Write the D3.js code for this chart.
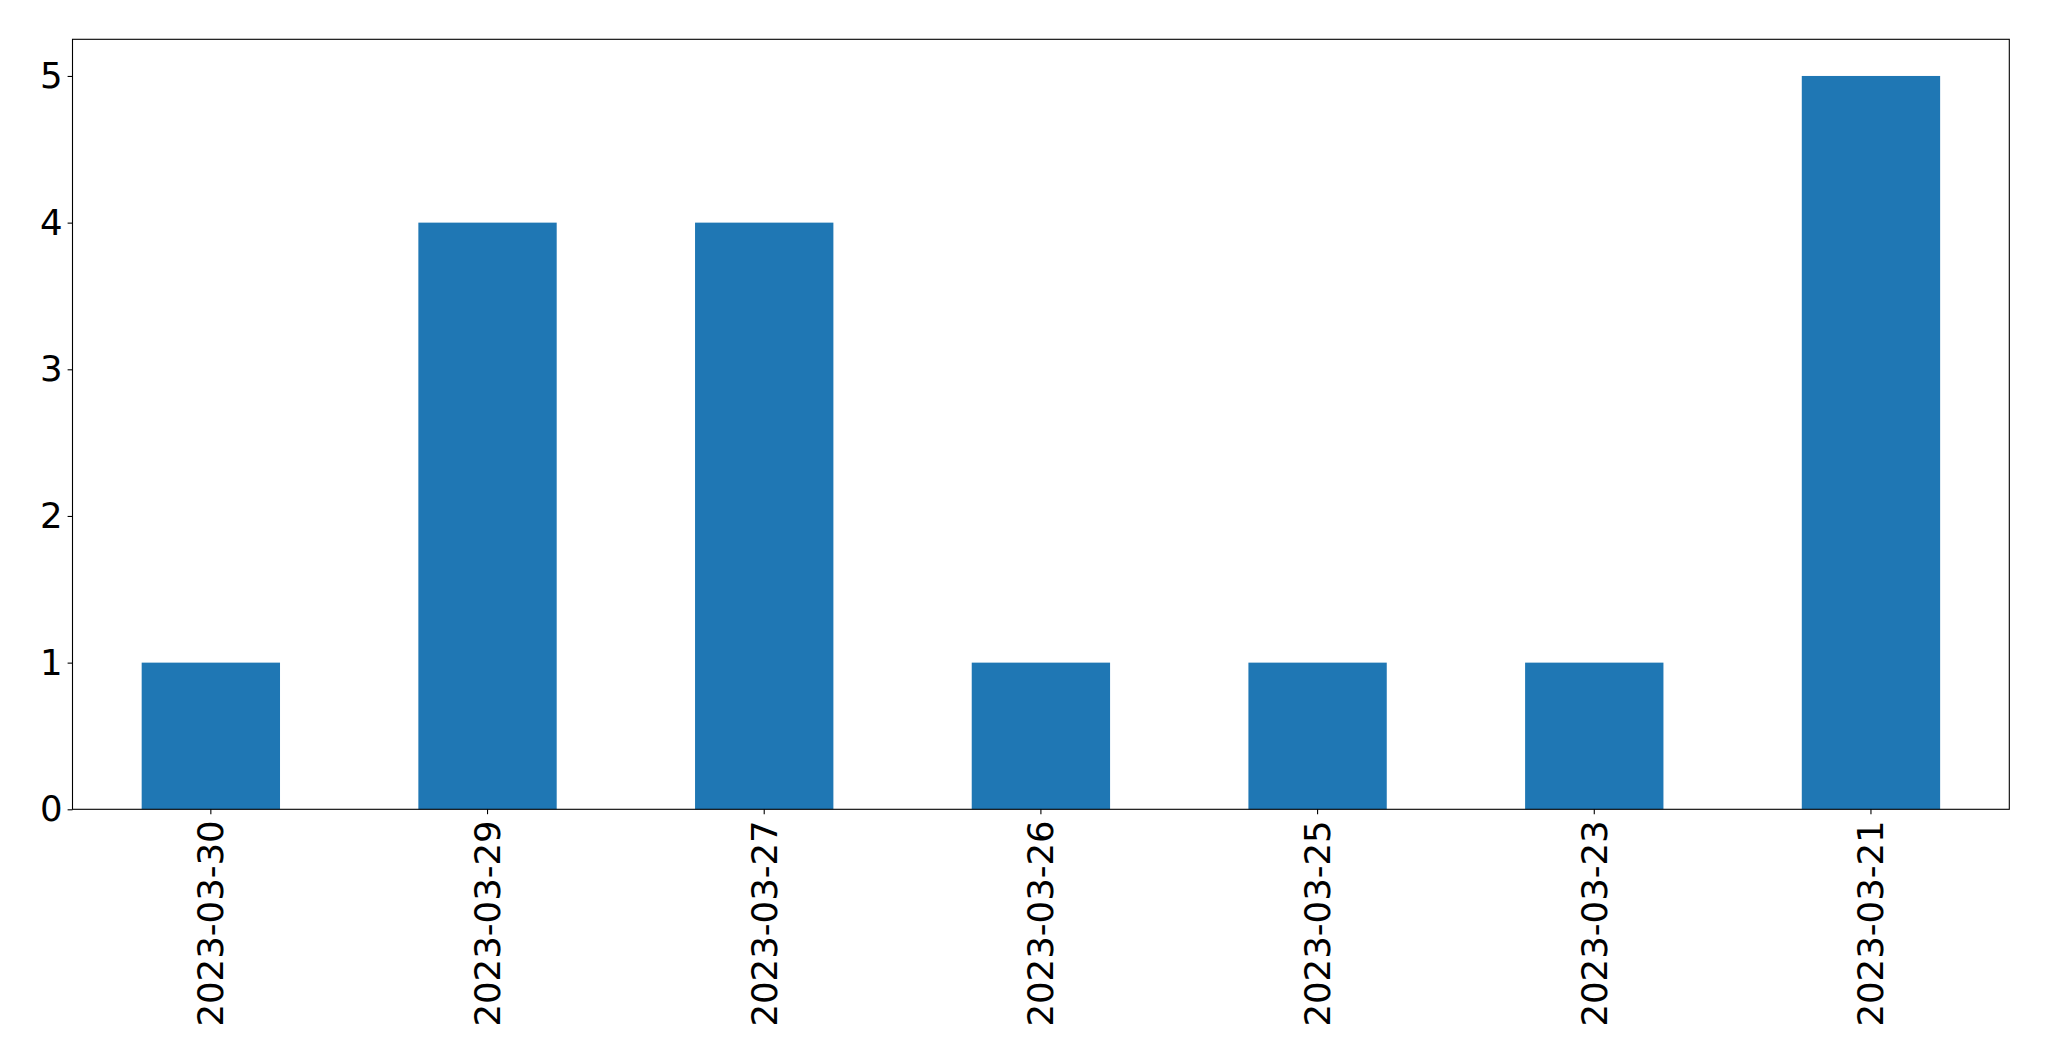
<!DOCTYPE html>
<html><head><meta charset="utf-8">
<script src="https://cdn.jsdelivr.net/npm/d3@7"></script>
<style>html,body{margin:0;padding:0;background:#fff;}svg{display:block;}</style>
</head><body>
<script>
const categories = ["2023-03-30","2023-03-29","2023-03-27","2023-03-26","2023-03-25","2023-03-23","2023-03-21"];
const values = [1,4,4,1,1,1,5];
const yTicks = [0,1,2,3,4,5];

const W = 2049, H = 1061;
const m = {left: 72.5, right: 2049-2009.3, top: 39.3, bottom: 1061-809.3};
const svg = d3.select("body").append("svg").attr("width", W).attr("height", H);
const g = svg.append("g").attr("transform", `translate(${m.left},${m.top})`);
const iw = W - m.left - m.right, ih = H - m.top - m.bottom;

const x = d3.scaleBand().domain(categories).range([0, iw]).paddingInner(0.5).paddingOuter(0.25);
const y = d3.scaleLinear().domain([0, 5.25]).range([ih, 0]);

g.selectAll("rect.bar").data(values).join("rect").attr("class","bar")
  .attr("x", (d,i) => x(categories[i]))
  .attr("width", x.bandwidth())
  .attr("y", d => y(d))
  .attr("height", d => ih - y(d))
  .attr("fill", "#1f77b4");

const font = "'DejaVu Sans', sans-serif";
const fs = "35.5px";
const yAxis = g.append("g").call(d3.axisLeft(y).tickValues(yTicks).tickFormat(d3.format("d")).tickSizeOuter(0).tickSize(4.9).tickPadding(4.9));
yAxis.select(".domain").remove();
yAxis.selectAll("text").attr("font-family", font).attr("font-size", fs).attr("fill","#000");
yAxis.selectAll("line").attr("stroke","#000").attr("stroke-width",1.1);

const xAxis = g.append("g").attr("transform", `translate(0,${ih})`)
  .call(d3.axisBottom(x).tickSizeOuter(0).tickSize(4.9).tickPadding(4.9));
xAxis.select(".domain").remove();
xAxis.selectAll("line").attr("stroke","#000").attr("stroke-width",1.1);
xAxis.selectAll("text").attr("font-family", font).attr("font-size", fs).attr("fill","#000")
  .attr("transform", "rotate(-90)").attr("text-anchor","end")
  .attr("x", -11).attr("y", 0).attr("dy", "0.35em");

g.append("rect").attr("x",0).attr("y",0).attr("width",iw).attr("height",ih)
  .attr("fill","none").attr("stroke","#000").attr("stroke-width",1.1);
</script>
</body></html>
